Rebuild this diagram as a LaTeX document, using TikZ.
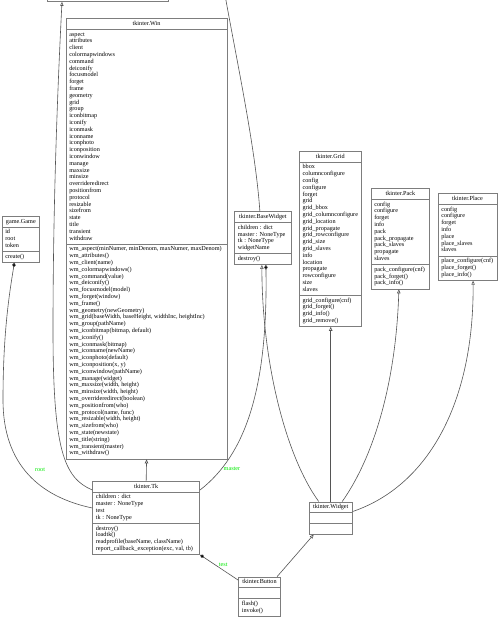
\documentclass[tikz,border=0pt]{standalone}
\usepackage{fontspec}
\setmainfont{Liberation Serif}
\usetikzlibrary{shapes.multipart,arrows.meta,calc}
\definecolor{boxgray}{RGB}{125,125,125}
\definecolor{linegray}{RGB}{85,85,85}
\definecolor{labgreen}{RGB}{0,235,0}
\tikzset{
 cls/.style={rectangle split, rectangle split parts=3, draw=boxgray, line width=0.75pt,
   anchor=north west, inner xsep=3.2pt, inner ysep=1.6pt, align=left,
   rectangle split part align={center,left,left},
   font=\fontsize{6.2}{6.8}\selectfont, text=black},
 inh/.style={draw=linegray, line width=0.6pt, -{Triangle[open,length=4pt,width=3.4pt]}},
 comp/.style={draw=linegray, line width=0.6pt, -{Diamond[length=5pt,width=3.6pt,fill=black]}},
 lbl/.style={text=labgreen, font=\fontsize{6.2}{6.8}\selectfont, inner sep=0pt}
}
\begin{document}
\begin{tikzpicture}[x=1pt,y=-1pt]
\clip (0,0) rectangle (500,617);
\fill[white] (0,0) rectangle (500,617);

\node[draw=boxgray, line width=0.75pt, minimum width=121.6pt, minimum height=20pt,
  anchor=south west, inner sep=0pt] (misc) at (46.7,1.8) {};

\node[cls, minimum width=161pt] (win) at (65.7,18.3) {\strut tkinter.Win
\nodepart{two}\strut aspect\\attributes\\client\\colormapwindows\\command\\deiconify\\focusmodel\\forget\\frame\\geometry\\grid\\group\\iconbitmap\\iconify\\iconmask\\iconname\\iconphoto\\iconposition\\iconwindow\\manage\\maxsize\\minsize\\overrideredirect\\positionfrom\\protocol\\resizable\\sizefrom\\state\\title\\transient\\withdraw\strut
\nodepart{three}\strut wm\_aspect(minNumer, minDenom, maxNumer, maxDenom)\\wm\_attributes()\\wm\_client(name)\\wm\_colormapwindows()\\wm\_command(value)\\wm\_deiconify()\\wm\_focusmodel(model)\\wm\_forget(window)\\wm\_frame()\\wm\_geometry(newGeometry)\\wm\_grid(baseWidth, baseHeight, widthInc, heightInc)\\wm\_group(pathName)\\wm\_iconbitmap(bitmap, default)\\wm\_iconify()\\wm\_iconmask(bitmap)\\wm\_iconname(newName)\\wm\_iconphoto(default)\\wm\_iconposition(x, y)\\wm\_iconwindow(pathName)\\wm\_manage(widget)\\wm\_maxsize(width, height)\\wm\_minsize(width, height)\\wm\_overrideredirect(boolean)\\wm\_positionfrom(who)\\wm\_protocol(name, func)\\wm\_resizable(width, height)\\wm\_sizefrom(who)\\wm\_state(newstate)\\wm\_title(string)\\wm\_transient(master)\\wm\_withdraw()\strut};

\node[cls, minimum width=37.6pt] (game) at (1.7,216) {\strut game.Game
\nodepart{two}\strut id\\root\\token\strut
\nodepart{three}\strut create()\strut};

\node[cls, minimum width=56.4pt] (basewidget) at (234.3,211.5) {\strut tkinter.BaseWidget
\nodepart{two}\strut children : dict\\master : NoneType\\tk : NoneType\\widgetName\strut
\nodepart{three}\strut destroy()\strut};

\node[cls, minimum width=61pt] (grid) at (299,151) {\strut tkinter.Grid
\nodepart{two}\strut bbox\\columnconfigure\\config\\configure\\forget\\grid\\grid\_bbox\\grid\_columnconfigure\\grid\_location\\grid\_propagate\\grid\_rowconfigure\\grid\_size\\grid\_slaves\\info\\location\\propagate\\rowconfigure\\size\\slaves\strut
\nodepart{three}\strut grid\_configure(cnf)\\grid\_forget()\\grid\_info()\\grid\_remove()\strut};

\node[cls, minimum width=58.6pt] (pack) at (370.7,188.3) {\strut tkinter.Pack
\nodepart{two}\strut config\\configure\\forget\\info\\pack\\pack\_propagate\\pack\_slaves\\propagate\\slaves\strut
\nodepart{three}\strut pack\_configure(cnf)\\pack\_forget()\\pack\_info()\strut};

\node[cls, minimum width=59pt] (place) at (437.7,193.3) {\strut tkinter.Place
\nodepart{two}\strut config\\configure\\forget\\info\\place\\place\_slaves\\slaves\strut
\nodepart{three}\strut place\_configure(cnf)\\place\_forget()\\place\_info()\strut};

\node[cls, minimum width=107pt] (tk) at (92.3,481) {\strut tkinter.Tk
\nodepart{two}\strut children : dict\\master : NoneType\\test\\tk : NoneType\strut
\nodepart{three}\strut destroy()\\loadtk()\\readprofile(baseName, className)\\report\_callback\_exception(exc, val, tb)\strut};

\node[cls, minimum width=43.3pt] (widget) at (308.7,501.5) {\strut tkinter.Widget
\nodepart{two}\strut
\nodepart{three}\strut};

\node[cls, minimum width=41.7pt] (button) at (238.3,576.7) {\strut tkinter.Button
\nodepart{two}\strut
\nodepart{three}\strut flash()\\invoke()\strut};

% inheritance
\draw[inh] (tk.north) -- (win.south);
\coordinate (tkL1) at ($(tk.north west)+(0,9)$);
\draw[inh] (tkL1) .. controls (64,478) and (53,450) .. (53,330)
  .. controls (53,200) and (58,80) .. ($(misc.south west)+(15.3,0)$);
\coordinate (miscR) at (219,-40);
\draw[inh] ($(basewidget.north)+(-3,0)$) .. controls (255,140) and (232,40) .. (miscR);
\draw[inh] ($(widget.north)+(-12,0)$) .. controls (285,455) and (262,360) .. ($(basewidget.south)+(-1,0)$);
\draw[inh] (widget.north) -- (widget.north |- grid.south);
\draw[inh] ($(widget.north)+(11.5,0)$) .. controls (375,455) and (396,380) .. ($(pack.south)+(-1.5,0)$);
\draw[inh] ($(widget.east)+(0,-6.5)$) .. controls (430,485) and (474,400) .. ($(place.south)+(5.5,0)$);
\draw[inh] ($(button.north)+(17.5,0)$) -- ($(widget.south)+(-17,0)$);

% composition
\coordinate (tkL2) at ($(tk.north west)+(0,27)$);
\draw[comp] (tkL2) .. controls (40,497) and (3,465) .. (3,400)
  .. controls (3,330) and (10,290) .. ($(game.south)+(-6.5,0)$);
\node[lbl] (lroot) at (40,470) {root};
\coordinate (tkR) at ($(tk.north east)+(0,9)$);
\draw[comp] (tkR) .. controls (245,455) and (268,390) .. ($(basewidget.south)+(3,0)$);
\node[lbl] (lmaster) at (232,469) {master};
\draw[comp] ($(button.north west)+(0,3.5)$) -- (tk.south east);
\node[lbl] (ltest) at (223.3,565) {test};
\end{tikzpicture}
\end{document}
